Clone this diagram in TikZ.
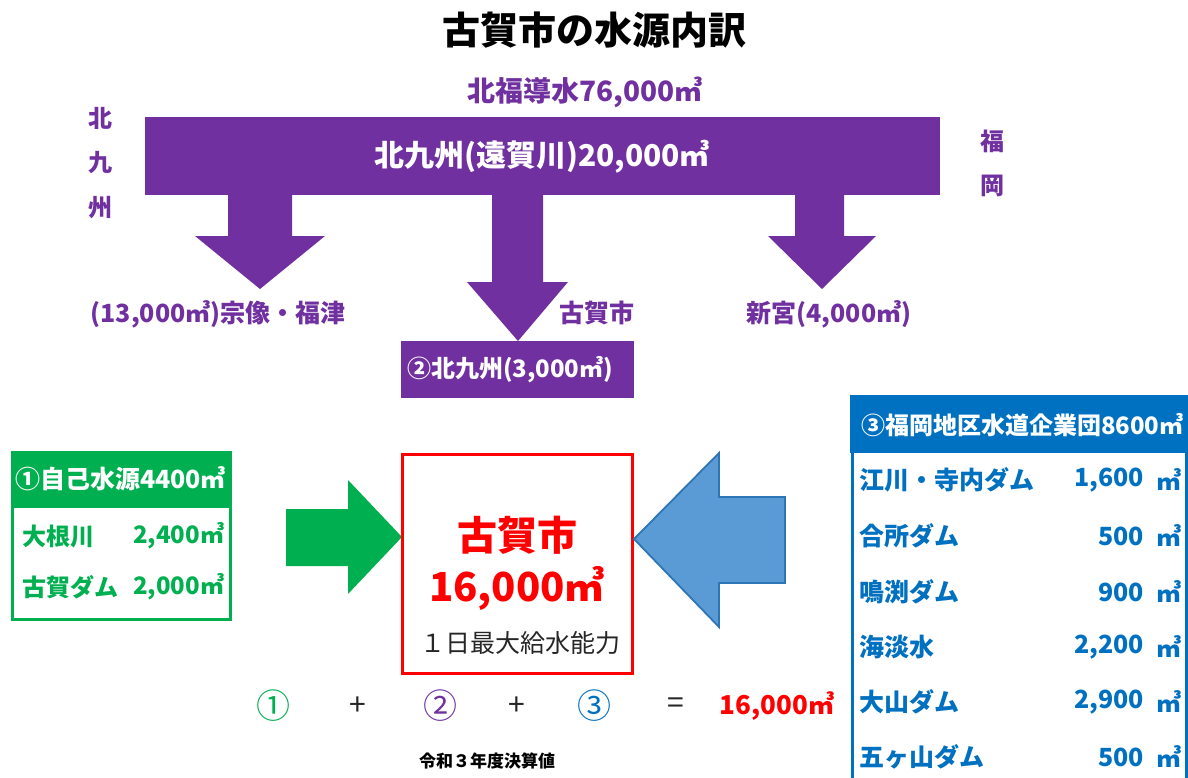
\documentclass[tikz,border=0pt]{standalone}
\usepackage{fontspec}
\setmainfont{Noto Sans CJK JP}
\definecolor{kpurple}{HTML}{7030A0}
\definecolor{kgreen}{HTML}{00B050}
\definecolor{kblue}{HTML}{0070C0}
\definecolor{karrowblue}{HTML}{5B9BD5}
\definecolor{karrowedge}{HTML}{2E75B6}
\definecolor{kred}{HTML}{FF0000}
\definecolor{kgray}{HTML}{262626}
\newcommand{\fsz}[1]{\fontsize{#1}{#1}\selectfont}
\tikzset{
  lbl/.style={inner sep=0pt, outer sep=0pt, font=\bfseries\fsz{24}},
  plbl/.style={lbl, text=kpurple, font=\bfseries\fsz{25}},
  glbl/.style={lbl, text=kgreen, font=\bfseries\fsz{24}},
  blbl/.style={lbl, text=kblue, font=\bfseries\fsz{25}},
  wlbl/.style={lbl, text=white},
  eqsym/.style={lbl, text=kgray, font=\fsz{30}},
  eqnum/.style={lbl, font=\fsz{34}},
  blockarrow/.style={fill=kpurple},
}
\begin{document}
\begin{tikzpicture}[x=1pt,y=-1pt]
\useasboundingbox (0,0) rectangle (1188,778);
\fill[white] (0,0) rectangle (1188,778);

% title
\node[lbl, font=\bfseries\fsz{38}] (title) at (594,30) {古賀市の水源内訳};

% top purple bar
\node[plbl, font=\bfseries\fsz{28}] (kitafuku) at (585,92) {北福導水76,000㎥};
\fill[kpurple] (145,117) rectangle (940,195);
\node[wlbl, font=\bfseries\fsz{30}] (bar) at (542,157) {北九州(遠賀川)20,000㎥};

\node[plbl, font=\bfseries\fsz{24}] (k1) at (100,118) {北};
\node[plbl, font=\bfseries\fsz{24}] (k2) at (100,163) {九};
\node[plbl, font=\bfseries\fsz{24}] (k3) at (100,208) {州};
\node[plbl, font=\bfseries\fsz{24}] (f1) at (992,141) {福};
\node[plbl, font=\bfseries\fsz{24}] (f2) at (992,186) {岡};

% down arrows
\fill[blockarrow] (228,194) -- (292,194) -- (292,236) -- (325,236) -- (260,289) -- (195,236) -- (228,236) -- cycle;
\fill[blockarrow] (492,194) -- (543,194) -- (543,282) -- (568,282) -- (518,341) -- (467,282) -- (492,282) -- cycle;
\fill[blockarrow] (795,194) -- (844,194) -- (844,236) -- (876,236) -- (822,289) -- (768,236) -- (795,236) -- cycle;

\node[plbl] (munakata) at (218,314) {(13,000㎥)宗像・福津};
\node[plbl] (koga) at (597,313) {古賀市};
\node[plbl] (shingu) at (829,314) {新宮(4,000㎥)};

\fill[kpurple] (401,341) rectangle (634,398);
\node[wlbl, anchor=west] (kita) at (407,370) {②北九州(3,000㎥)};

% green box
\fill[kgreen] (11,451) rectangle (232,508);
\draw[kgreen, line width=3pt] (12.5,452.5) rectangle (230.5,619);
\node[wlbl, anchor=west, font=\bfseries\fsz{25}] (g0) at (15,479) {①自己水源4400㎥};
\node[glbl, anchor=west] (g1) at (22,536) {大根川};
\node[glbl, anchor=east] (g1v) at (224,536) {2,400㎥};
\node[glbl, anchor=west] (g2) at (22,587) {古賀ダム};
\node[glbl, anchor=east] (g2v) at (224,587) {2,000㎥};

% green arrow
\fill[kgreen] (286,509) -- (348,509) -- (348,480) -- (402,537) -- (348,594) -- (348,566) -- (286,566) -- cycle;

% red box
\draw[kred, line width=3pt] (402,454) rectangle (632,673);
\node[lbl, text=kred, font=\bfseries\fsz{40}] (c1) at (517,535) {古賀市};
\node[lbl, text=kred, font=\bfseries\fsz{40}] (c2) at (517,588) {16,000㎥};
\node[lbl, text=kgray, font=\fsz{25}] (c3) at (520,643) {１日最大給水能力};

% blue arrow
\filldraw[fill=karrowblue, draw=karrowedge, line width=1.8pt, line join=miter]
  (634,539) -- (719,453) -- (719,497) -- (785,497) -- (785,583) -- (719,583) -- (719,627) -- cycle;

% blue table
\fill[kblue] (850,395) rectangle (1188,453);
\draw[kblue, line width=3pt] (852,800) -- (852,396.5) -- (1186,396.5) -- (1186,800);
\node[wlbl, anchor=west] (b0) at (861,425) {③福岡地区水道企業団8600㎥};
\node[blbl, anchor=west] (b1) at (859,480) {江川・寺内ダム};
\node[blbl, anchor=east] (b1v) at (1144,480) {1,600};
\node[blbl, anchor=west] (b1u) at (1156,480) {㎥};
\node[blbl, anchor=west] (b2) at (859,536) {合所ダム};
\node[blbl, anchor=east] (b2v) at (1144,536) {500};
\node[blbl, anchor=west] (b2u) at (1156,536) {㎥};
\node[blbl, anchor=west] (b3) at (859,592) {鳴渕ダム};
\node[blbl, anchor=east] (b3v) at (1144,592) {900};
\node[blbl, anchor=west] (b3u) at (1156,592) {㎥};
\node[blbl, anchor=west] (b4) at (859,647) {海淡水};
\node[blbl, anchor=east] (b4v) at (1144,647) {2,200};
\node[blbl, anchor=west] (b4u) at (1156,647) {㎥};
\node[blbl, anchor=west] (b5) at (859,702) {大山ダム};
\node[blbl, anchor=east] (b5v) at (1144,702) {2,900};
\node[blbl, anchor=west] (b5u) at (1156,702) {㎥};
\node[blbl, anchor=west] (b6) at (859,757) {五ヶ山ダム};
\node[blbl, anchor=east] (b6v) at (1144,757) {500};
\node[blbl, anchor=west] (b6u) at (1156,757) {㎥};

% equation
\node[eqnum, text=kgreen] (e1) at (273,706) {①};
\node[eqsym] (e2) at (358,706) {+};
\node[eqnum, text=kpurple] (e3) at (440,706) {②};
\node[eqsym] (e4) at (517,706) {+};
\node[eqnum, text=kblue] (e5) at (594,706) {③};
\node[eqsym] (e6) at (676,706) {=};
\node[lbl, text=kred, font=\bfseries\fsz{26}] (e7) at (777,706) {16,000㎥};

\node[lbl, font=\bfseries\fsz{17}] (note) at (487,761) {令和３年度決算値};
\end{tikzpicture}
\end{document}
